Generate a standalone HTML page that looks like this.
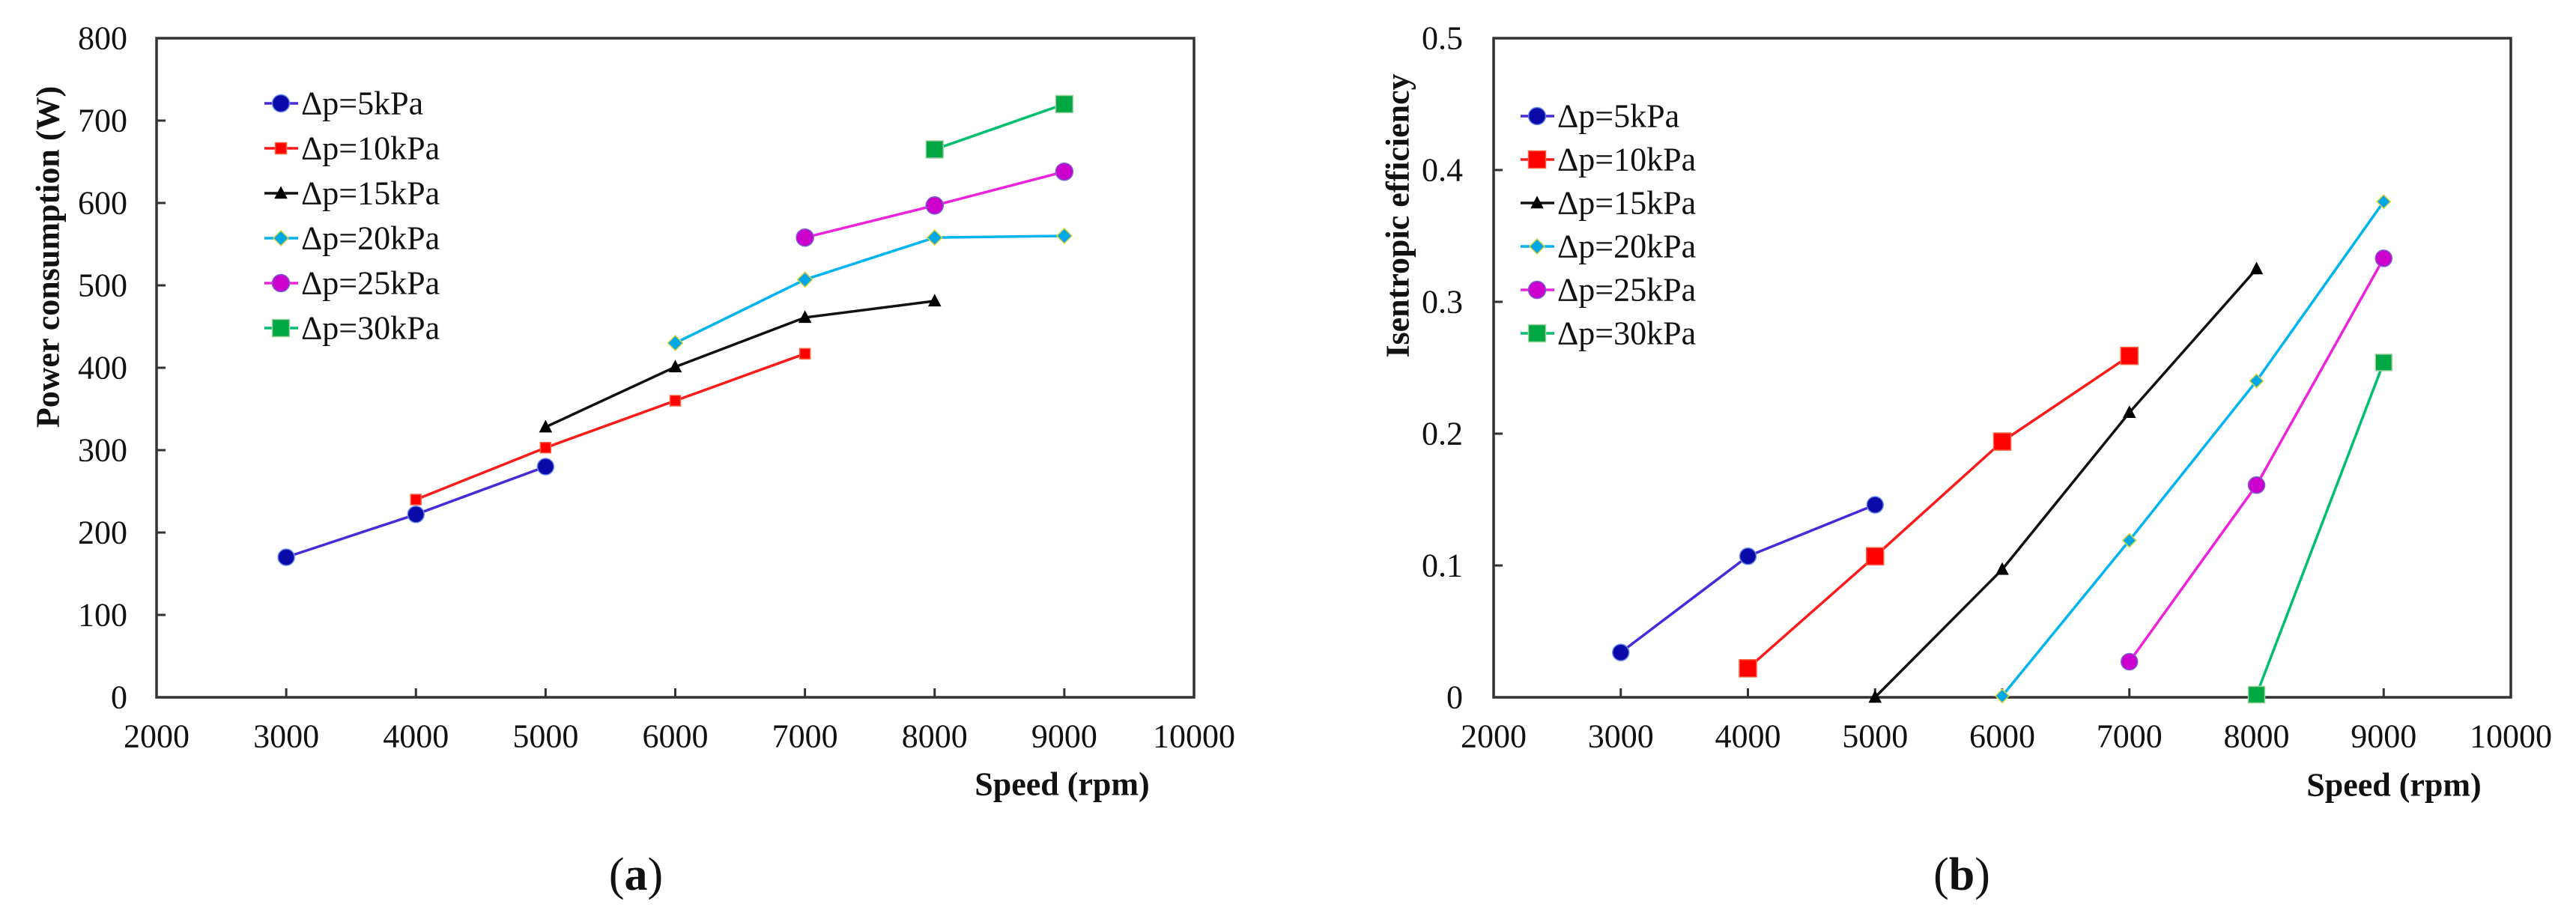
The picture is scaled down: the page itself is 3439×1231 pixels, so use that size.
<!DOCTYPE html>
<html><head><meta charset="utf-8"><style>
html,body{margin:0;padding:0;background:#fff;}
svg{display:block;font-family:"Liberation Serif","Noto Serif CJK SC","DejaVu Serif",serif;}
svg text{font-family:"Liberation Serif","Noto Serif CJK SC","DejaVu Serif",serif;fill:#111;}
</style></head><body>
<svg id="fig" width="3439" height="1231" viewBox="0 0 3439 1231" xmlns="http://www.w3.org/2000/svg"></svg>
<script>
const xTicks=[2000,3000,4000,5000,6000,7000,8000,9000,10000];
const seriesNames=["Δp=5kPa","Δp=10kPa","Δp=15kPa","Δp=20kPa","Δp=25kPa","Δp=30kPa"];
// chart a: power consumption
const a5x=[3000,4000,5000], a5y=[170,222,280];
const a10x=[4000,5000,6000,7000], a10y=[240,303,360,417];
const a15x=[5000,6000,7000,8000], a15y=[328,401,461,481];
const a20x=[6000,7000,8000,9000], a20y=[430,507,558,560];
const a25x=[7000,8000,9000], a25y=[558,597,638];
const a30x=[8000,9000], a30y=[665,720];
const aYTicks=[0,100,200,300,400,500,600,700,800];
const aYLabels=["0","100","200","300","400","500","600","700","800"];
// chart b: isentropic efficiency
const b5x=[3000,4000,5000], b5y=[0.034,0.107,0.146];
const b10x=[4000,5000,6000,7000], b10y=[0.022,0.107,0.194,0.259];
const b15x=[5000,6000,7000,8000], b15y=[0,0.097,0.216,0.325];
const b20x=[6000,7000,8000,9000], b20y=[0.001,0.119,0.240,0.376];
const b25x=[7000,8000,9000], b25y=[0.027,0.161,0.333];
const b30x=[8000,9000], b30y=[0.002,0.254];
const bYTicks=[0,0.1,0.2,0.3,0.4,0.5];
const bYLabels=["0","0.1","0.2","0.3","0.4","0.5"];

const NS="http://www.w3.org/2000/svg";
const svg=document.getElementById('fig');
const FONT="'Liberation Serif', 'Noto Serif CJK SC', 'DejaVu Serif', serif";
function mk(tag,attrs,parent){const e=document.createElementNS(NS,tag);for(const k in attrs)e.setAttribute(k,attrs[k]);if(tag==='text')e.setAttribute('font-family',FONT);(parent||svg).appendChild(e);return e;}

const styles=[
 {line:"#4a2ad8",fill:"#0a0aa8",stroke:"#6a8ae8",shape:"circle"},
 {line:"#ff1a1a",fill:"#ff0000",stroke:"#ff6040",shape:"square"},
 {line:"#111111",fill:"#000000",stroke:"#000000",shape:"triangle"},
 {line:"#00b4f0",fill:"#00a8e8",stroke:"#d8d040",shape:"diamond"},
 {line:"#ee22dd",fill:"#cc00cc",stroke:"#7a60d0",shape:"circle"},
 {line:"#00c070",fill:"#00a844",stroke:"#a0d0a0",shape:"square"}
];

function marker(g,shape,cx,cy,s,st){
 let e;
 if(shape==="circle") e=mk('circle',{cx:cx,cy:cy,r:s/2,fill:st.fill,stroke:st.stroke,'stroke-width':1.5},g);
 else if(shape==="square") e=mk('rect',{x:cx-s/2,y:cy-s/2,width:s,height:s,fill:st.fill,stroke:st.stroke,'stroke-width':1.5},g);
 else if(shape==="triangle") e=mk('polygon',{points:`${cx},${cy-s*0.6} ${cx-s*0.55},${cy+s*0.45} ${cx+s*0.55},${cy+s*0.45}`,fill:st.fill},g);
 else e=mk('polygon',{points:`${cx},${cy-s/2} ${cx+s/2},${cy} ${cx},${cy+s/2} ${cx-s/2},${cy}`,fill:st.fill,stroke:st.stroke,'stroke-width':1.5},g);
 return e;
}

function drawChart(cfg){
 const g=mk('g',{});
 
 
 const L=cfg.L,R=cfg.R,T=cfg.T,B=cfg.B;
 const xs=v=>L+(v-2000)/8000*(R-L);
 const ys=v=>B-(v-cfg.yMin)/(cfg.yMax-cfg.yMin)*(B-T);
 const fr=mk('rect',{x:L,y:T,width:R-L,height:B-T,fill:'none',stroke:'#333',"stroke-width":3.5},g);
 
 
 xTicks.forEach((t,i)=>{
  const x=xs(t);
  if(i>0&&i<xTicks.length-1){const tk=mk('line',{x1:x,y1:B,x2:x,y2:B-12,stroke:'#333','stroke-width':3},g);
   }
  const tx=mk('text',{x:x,y:cfg.xLabY,'font-size':44,'text-anchor':'middle','dominant-baseline':'central'},g);
  tx.textContent=String(t);
  
  
 });
 cfg.yTicks.forEach((t,i)=>{
  const y=ys(t);
  if(i>0&&i<cfg.yTicks.length-1){const tk=mk('line',{x1:L,y1:y,x2:L+12,y2:y,stroke:'#333','stroke-width':3},g);
   }
  const tx=mk('text',{x:cfg.yLabX,y:y,'font-size':44,'text-anchor':'end','dominant-baseline':'central'},g);
  tx.textContent=cfg.yLabels[i];
  
  
 });
 cfg.series.forEach((s,i)=>{
  const st=styles[i];
  const sg=mk('g',{},g);
  
  
  const pts=s.x.map((v,j)=>xs(v)+','+ys(s.y[j])).join(' ');
  mk('polyline',{points:pts,fill:'none',stroke:st.line,'stroke-width':3.5},sg);
  s.x.forEach((v,j)=>{
   const m=marker(sg,st.shape,xs(v),ys(s.y[j]),cfg.sizes[i],st);
   
   
  });
 });
 const lg=mk('g',{},g);
 
 
 seriesNames.forEach((n,i)=>{
  const y=cfg.legY+i*cfg.legDy;
  const st=styles[i];
  const eg=mk('g',{},lg);
  
  
  mk('line',{x1:cfg.legX-22,y1:y,x2:cfg.legX+23,y2:y,stroke:st.line,'stroke-width':3.5},eg);
  marker(eg,st.shape,cfg.legX,y,cfg.legSizes[i],st);
  const t=mk('text',{x:cfg.legX+27,y:y,'font-size':44,'dominant-baseline':'central'},eg);
  t.textContent=n;
 });
 const xt=mk('text',{x:cfg.xTitleX,y:cfg.xTitleY,'font-size':44,'font-weight':'bold','text-anchor':'middle','dominant-baseline':'central'},g);
 xt.textContent="Speed (rpm)";
 
 
 const yt=mk('text',{x:0,y:0,'font-size':44,'font-weight':'bold','text-anchor':'middle','dominant-baseline':'central',transform:`translate(${cfg.yTitleX},${cfg.yTitleY}) rotate(-90)`},g);
 yt.textContent=cfg.yTitle;
 
 
 const cap=mk('text',{x:cfg.capX,y:1168,'font-size':62,'text-anchor':'middle','dominant-baseline':'central'},g);
 cap.innerHTML=cfg.cap;
 
 
}

drawChart({name:'chart-a-power',L:209,R:1594,T:51,B:931,yMin:0,yMax:800,yTicks:aYTicks,yLabels:aYLabels,
 yLabX:170,xLabY:983,
 series:[{x:a5x,y:a5y},{x:a10x,y:a10y},{x:a15x,y:a15y},{x:a20x,y:a20y},{x:a25x,y:a25y},{x:a30x,y:a30y}],
 sizes:[22,14,16,20,23,23],legSizes:[23,15,16,20,23,23],
 legX:375,legY:138,legDy:60,xTitleX:1418,xTitleY:1047,yTitleX:64,yTitleY:343,
 yTitle:"Power consumption (W)",cap:"(<tspan font-weight='bold'>a</tspan>)",capX:849});

drawChart({name:'chart-b-efficiency',L:1994,R:3352,T:51,B:931,yMin:0,yMax:0.5,yTicks:bYTicks,yLabels:bYLabels,
 yLabX:1953,xLabY:983,
 series:[{x:b5x,y:b5y},{x:b10x,y:b10y},{x:b15x,y:b15y},{x:b20x,y:b20y},{x:b25x,y:b25y},{x:b30x,y:b30y}],
 sizes:[22,23,16,18,22,22],legSizes:[23,23,16,20,23,23],
 legX:2052,legY:155,legDy:58,xTitleX:3196,xTitleY:1048,yTitleX:1866,yTitleY:288,
 yTitle:"Isentropic efficiency",cap:"(<tspan font-weight='bold'>b</tspan>)",capX:2619});
</script>
</body></html>
